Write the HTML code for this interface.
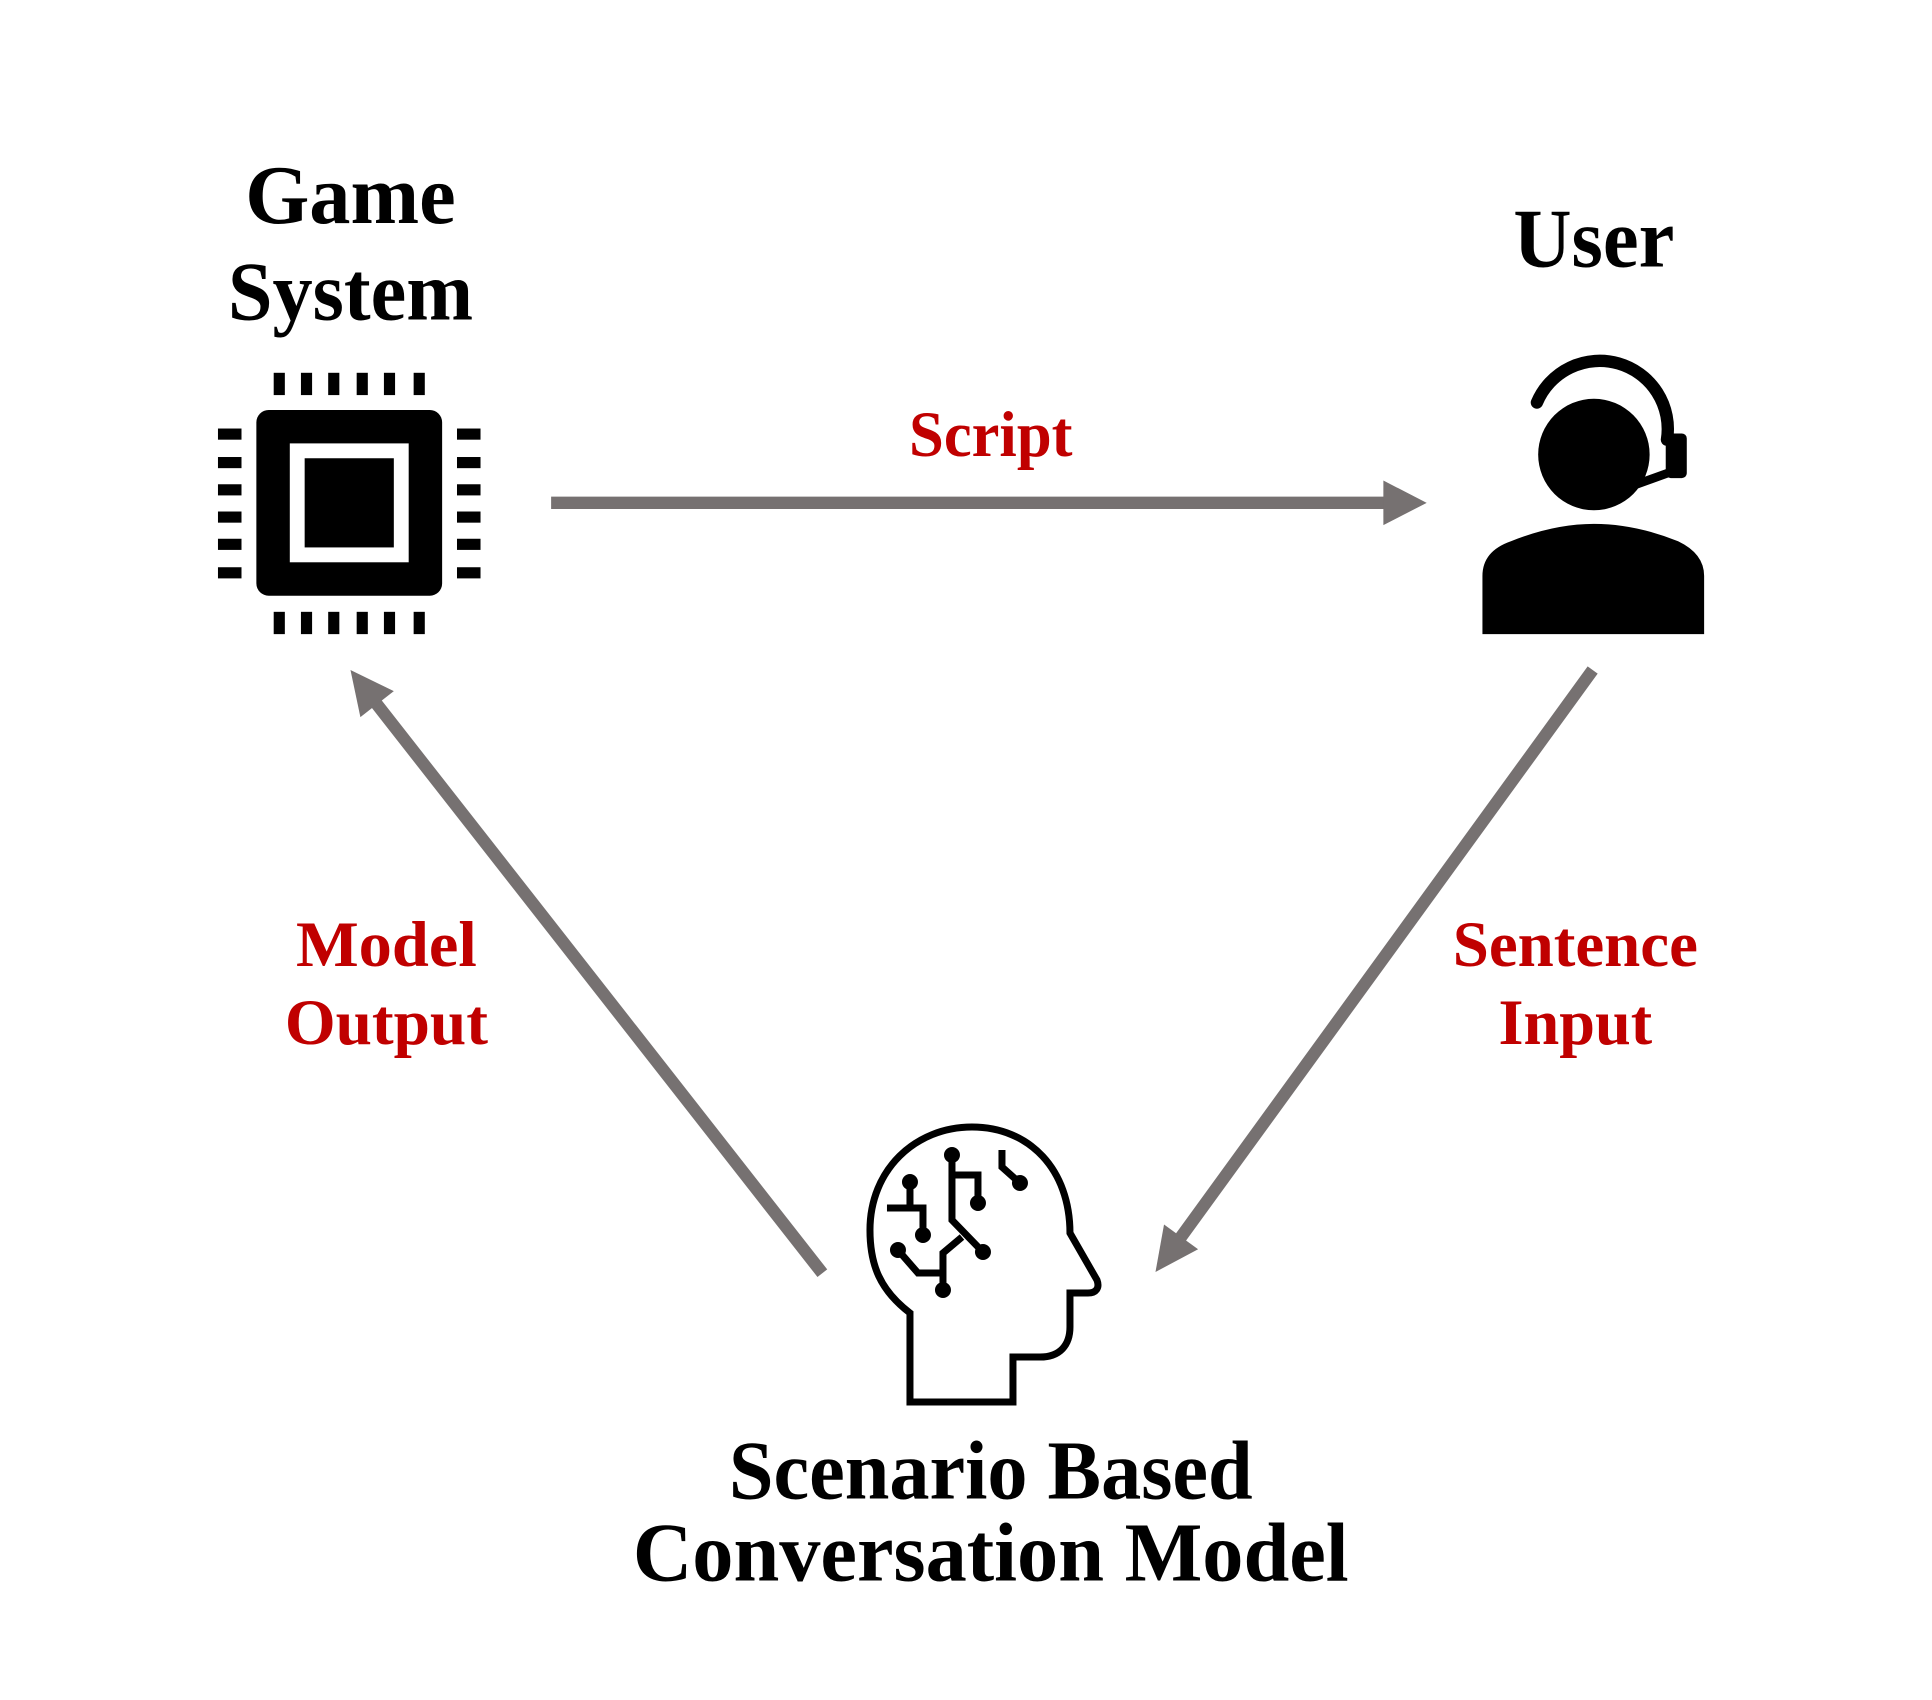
<!DOCTYPE html>
<html><head><meta charset="utf-8"><style>
html,body{margin:0;padding:0;background:#fff;}
svg{display:block;}
text{font-family:"Liberation Serif",serif;font-weight:bold;}
</style></head><body>
<svg width="1932" height="1700" viewBox="0 0 1560 1372.6" preserveAspectRatio="none" xmlns="http://www.w3.org/2000/svg">
<rect width="1560" height="1372.6" fill="#fff"/>
<!-- labels -->
<g fill="#000" text-anchor="middle" font-size="68">
<text x="283" y="180" textLength="170" lengthAdjust="spacingAndGlyphs">Game</text>
<text x="283" y="258" textLength="198" lengthAdjust="spacingAndGlyphs">System</text>
<text x="1287" y="215" textLength="130" lengthAdjust="spacingAndGlyphs">User</text>
<text x="800" y="1210" textLength="423" lengthAdjust="spacingAndGlyphs">Scenario Based</text>
<text x="800" y="1276" textLength="578" lengthAdjust="spacingAndGlyphs">Conversation Model</text>
</g>
<g fill="#c00000" text-anchor="middle" font-size="52">
<text x="800" y="368" textLength="132" lengthAdjust="spacingAndGlyphs">Script</text>
<text x="312" y="780" textLength="146" lengthAdjust="spacingAndGlyphs">Model</text>
<text x="312" y="843" textLength="164" lengthAdjust="spacingAndGlyphs">Output</text>
<text x="1272" y="780" textLength="198" lengthAdjust="spacingAndGlyphs">Sentence</text>
<text x="1272" y="843" textLength="124" lengthAdjust="spacingAndGlyphs">Input</text>
</g>
<!-- arrows -->
<g stroke="#767171" stroke-width="10" fill="none">
<line x1="445" y1="406" x2="1120" y2="406"/>
<line x1="664" y1="1028" x2="303" y2="567"/>
<line x1="1286" y1="541" x2="952" y2="1001"/>
</g>
<g fill="#767171">
<polygon points="1152,406 1117,388 1117,424"/>
<polygon points="283,541 318,558 291,579"/>
<polygon points="933,1027 967.4,1008.7 939.9,988.7"/>
</g>
<!-- chip -->
<g fill="#000">
<rect x="207" y="331" width="150" height="150" rx="10"/>
<rect x="234" y="358" width="96" height="96" fill="#fff"/>
<rect x="246" y="370" width="72" height="72"/>
<g id="pt">
<rect x="221" y="301" width="9" height="18"/><rect x="243" y="301" width="9" height="18"/><rect x="265" y="301" width="9" height="18"/><rect x="288" y="301" width="9" height="18"/><rect x="310" y="301" width="9" height="18"/><rect x="334" y="301" width="9" height="18"/>
</g>
<g transform="translate(0,193)">
<rect x="221" y="301" width="9" height="18"/><rect x="243" y="301" width="9" height="18"/><rect x="265" y="301" width="9" height="18"/><rect x="288" y="301" width="9" height="18"/><rect x="310" y="301" width="9" height="18"/><rect x="334" y="301" width="9" height="18"/>
</g>
<rect x="176" y="346" width="19" height="9"/><rect x="176" y="369" width="19" height="9"/><rect x="176" y="391" width="19" height="9"/><rect x="176" y="413" width="19" height="9"/><rect x="176" y="435" width="19" height="9"/><rect x="176" y="458" width="19" height="9"/>
<rect x="369" y="346" width="19" height="9"/><rect x="369" y="369" width="19" height="9"/><rect x="369" y="391" width="19" height="9"/><rect x="369" y="413" width="19" height="9"/><rect x="369" y="435" width="19" height="9"/><rect x="369" y="458" width="19" height="9"/>
</g>
<!-- user -->
<g fill="#000">
<circle cx="1287" cy="367" r="45"/>
<path d="M1241,325 A55,55 0 0 1 1346,355" fill="none" stroke="#000" stroke-width="10" stroke-linecap="round"/>
<rect x="1345" y="350" width="17" height="36" rx="4"/>
<path d="M1352,380 L1305,397" stroke="#000" stroke-width="7" fill="none" stroke-linecap="round"/>
<circle cx="1305" cy="400" r="7"/>
<path d="M1197,512 L1197,465 Q1197,445 1220,437 Q1255,423 1287,423 Q1320,423 1355,437 Q1376,447 1376,465 L1376,512Z"/>
</g>
<!-- head (real coords) -->
<g transform="scale(0.80743)" stroke="#000" stroke-width="7" fill="none">
<path d="M910,1402 L910,1313 C880,1290 870,1265 870,1230 C870,1170 915,1127 972,1127 C1030,1127 1070,1170 1070,1233 L1097,1280 C1100,1288 1096,1293 1088,1293 L1070,1293 L1070,1327 C1070,1345 1060,1357 1040,1357 L1013,1357 L1013,1402 Z"/>
<path d="M952,1155 L952,1220 L983,1252"/>
<path d="M952,1175 L978,1175 L978,1203"/>
<path d="M910,1182 L910,1208 M887,1208 L923,1208 L923,1235"/>
<path d="M898,1250 L918,1273 L943,1273 M943,1290 L943,1253 L962,1237"/>
<path d="M1002,1150 L1002,1167 L1020,1183"/>
</g>
<g transform="scale(0.80743)" fill="#000">
<circle cx="952" cy="1155" r="8"/><circle cx="983" cy="1252" r="8"/><circle cx="978" cy="1203" r="8"/>
<circle cx="910" cy="1182" r="8"/><circle cx="923" cy="1235" r="8"/><circle cx="898" cy="1250" r="8"/>
<circle cx="943" cy="1290" r="8"/><circle cx="1020" cy="1183" r="8"/>
</g>
</svg>
</body></html>
